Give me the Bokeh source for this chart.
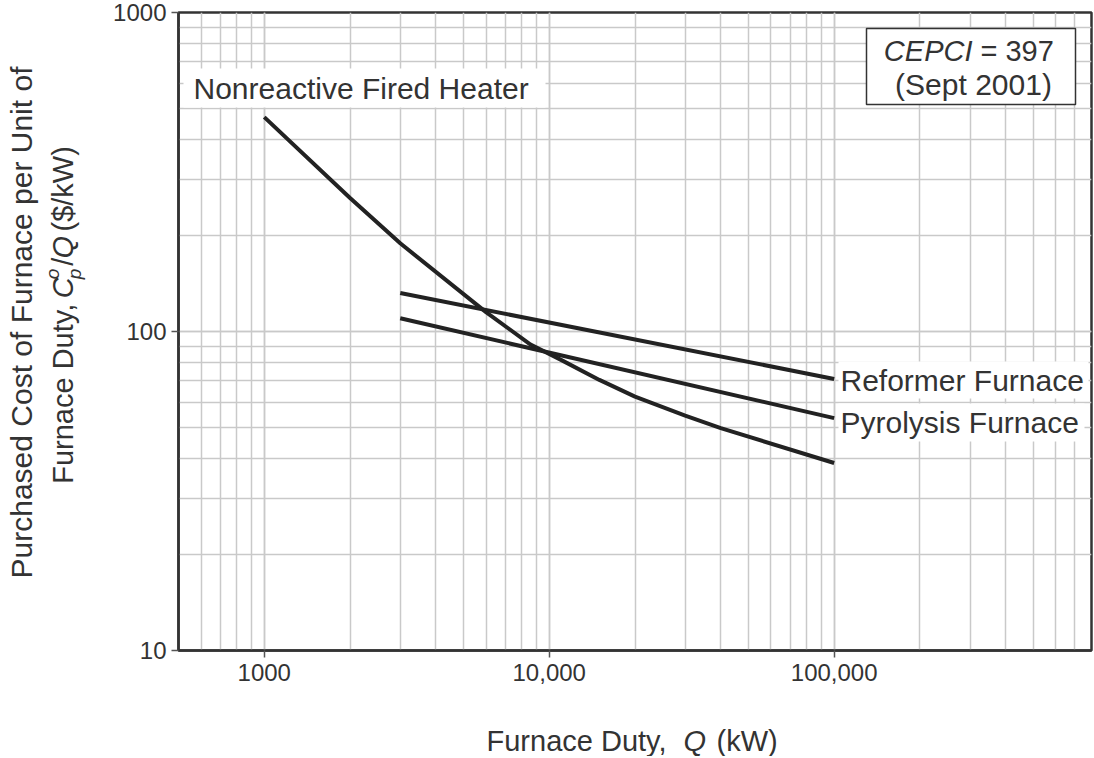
import math
from bokeh.plotting import figure
from bokeh.layouts import row, column
from bokeh.models import FixedTicker, Label, BoxAnnotation, Range1d
from bokeh.core.properties import value
from bokeh.embed import file_html
from bokeh.resources import INLINE

# ---- data ----
nonreactive_q = [1000, 2000, 3000, 6000, 8600, 11000, 15000, 20000, 30000, 40000, 100000]
nonreactive_c = [470, 262, 189, 115, 91, 81.5, 70.5, 62.5, 54.5, 49.8, 38.7]
reformer_q = [3000, 100000]
reformer_c = [132, 71]
pyrolysis_q = [3000, 100000]
pyrolysis_c = [110, 53.5]

x_major = [1000, 10000, 100000]
x_labels = ["1000", "10,000", "100,000"]
y_major = [10, 100, 1000]
y_labels = ["10", "100", "1000"]

FONT = "Liberation Sans"
TXT = "#333333"
LINE = "#222222"
GRID = "#c9c9c9"

X0, X1 = 500, 800000
Y0, Y1 = 10, 1000
YW = 100                     # width of the strip holding the y title
FL, FT, FW, FH = 178, 12, 913, 638   # frame placement on the page (px)
PH = 708                     # main figure height
XH = 48                      # height of the strip holding the x title
PW = 1094


def X(px):
    return 10 ** (math.log10(X0) + (px - FL) / FW * math.log10(X1 / X0))


def Y(py):
    return 10 ** (math.log10(Y1) - (py - FT) / FH * math.log10(Y1 / Y0))


x_minor = [m * 10 ** e for e in range(2, 6) for m in range(1, 10) if X0 <= m * 10 ** e <= X1]
y_minor = [m * 10 ** e for e in range(1, 3) for m in range(1, 10)] + [1000]

p = figure(
    x_axis_type="log", y_axis_type="log",
    x_range=Range1d(X0, X1), y_range=Range1d(Y0, Y1),
    frame_width=FW, frame_height=FH,
    min_border_left=FL - YW, min_border_top=FT, min_border_right=3,
    min_border_bottom=PH - FT - FH,
    output_backend="svg", toolbar_location=None,
    background_fill_color="white", border_fill_color="white",
)
p.outline_line_color = "#333333"
p.outline_line_width = 2.5

p.xaxis.ticker = FixedTicker(ticks=x_major, minor_ticks=x_minor)
p.yaxis.ticker = FixedTicker(ticks=y_major, minor_ticks=y_minor)
p.xaxis.major_label_overrides = {v: s for v, s in zip(x_major, x_labels)}
p.yaxis.major_label_overrides = {v: s for v, s in zip(y_major, y_labels)}

for ax in (p.xaxis, p.yaxis):
    ax.axis_line_color = "#333333"
    ax.axis_line_width = 2.5
    ax.major_tick_line_color = "#555555"
    ax.major_tick_line_width = 1.5
    ax.major_tick_out = 7
    ax.major_tick_in = 0
    ax.minor_tick_line_color = None
    ax.major_label_text_font = FONT
    ax.major_label_text_font_size = "24px"
    ax.major_label_text_color = TXT
p.xaxis.major_label_standoff = 6
p.yaxis.major_label_standoff = 5

for g in (p.xgrid, p.ygrid):
    g.grid_line_color = GRID
    g.grid_line_width = 1.5
    g.minor_grid_line_color = GRID
    g.minor_grid_line_width = 1.5

# curves
p.line(nonreactive_q, nonreactive_c, line_color=LINE, line_width=4, line_join="round")
p.line(reformer_q, reformer_c, line_color=LINE, line_width=4)
p.line(pyrolysis_q, pyrolysis_c, line_color=LINE, line_width=4)

# white label backgrounds
p.add_layout(BoxAnnotation(left=X(183), right=X(545), top=Y(68), bottom=Y(107),
                           fill_color="white", fill_alpha=1, line_color=None))
p.add_layout(BoxAnnotation(left=X(838), right=X(1088), top=Y(361), bottom=Y(398),
                           fill_color="white", fill_alpha=1, line_color=None))
p.add_layout(BoxAnnotation(left=X(838), right=X(1084), top=Y(403), bottom=Y(441),
                           fill_color="white", fill_alpha=1, line_color=None))
p.add_layout(BoxAnnotation(left=X(866), right=X(1075), top=Y(28), bottom=Y(104),
                           fill_color="white", fill_alpha=1, line_color="#333333",
                           line_alpha=1, line_width=1.5))


def lab(text, px, py, size=30, align="left", style="normal"):
    p.add_layout(Label(x=X(px), y=Y(py), text=text, text_font=FONT,
                       text_font_size=f"{size}px", text_font_style=style,
                       text_color=TXT, text_align=align, text_baseline="middle"))


lab("Nonreactive Fired Heater", 193, 88)
lab("Reformer Furnace", 840, 380)
lab("Pyrolysis Furnace", 840, 422)
lab("CEPCI", 972, 50, size=29, align="right", style="italic")
lab("= 397", 980, 50, size=29)
lab("(Sept 2001)", 973, 84, align="center")


def strip(w, h):
    f = figure(width=w, height=h, x_range=Range1d(0, w), y_range=Range1d(0, h),
               min_border=0, x_axis_location=None, y_axis_location=None,
               output_backend="svg", toolbar_location=None,
               background_fill_color="white", border_fill_color="white")
    f.outline_line_color = None
    f.grid.visible = False
    return f


def stext(f, h, text, px, py, size, align="left", style="normal", angle=0.0):
    f.text(x=[px], y=[h - py], text=[text], angle=angle,
           text_font=value(FONT), text_font_size=value(f"{size}px"),
           text_font_style=style, text_color=TXT,
           text_align=align, text_baseline="middle")


# y axis title (rotated), page px coordinates
A = math.pi / 2
ystrip = strip(YW, PH)
stext(ystrip, PH, "Purchased Cost of Furnace per Unit of", 21, 344, 30, align="center", angle=A)
stext(ystrip, PH, "Furnace Duty,", 62, 523, 29, angle=A)
stext(ystrip, PH, "C", 62, 317, 29, style="italic", angle=A)
stext(ystrip, PH, "p", 74, 296, 19, style="italic", angle=A)
stext(ystrip, PH, "o", 52, 296, 19, style="italic", angle=A)
stext(ystrip, PH, "/", 62, 281, 29, angle=A)
stext(ystrip, PH, "Q", 62, 273, 29, style="italic", angle=A)
stext(ystrip, PH, "($/kW)", 62, 243, 29, angle=A)

# x axis title
xstrip = strip(PW, XH)
stext(xstrip, XH, "Furnace Duty,", 666, 32, 29, align="right")
stext(xstrip, XH, "Q", 683, 32, 29, style="italic")
stext(xstrip, XH, "(kW)", 716, 32, 29)

layout = column(row(ystrip, p, spacing=0), xstrip, spacing=0)

open("out.html", "w").write(file_html(layout, INLINE))
